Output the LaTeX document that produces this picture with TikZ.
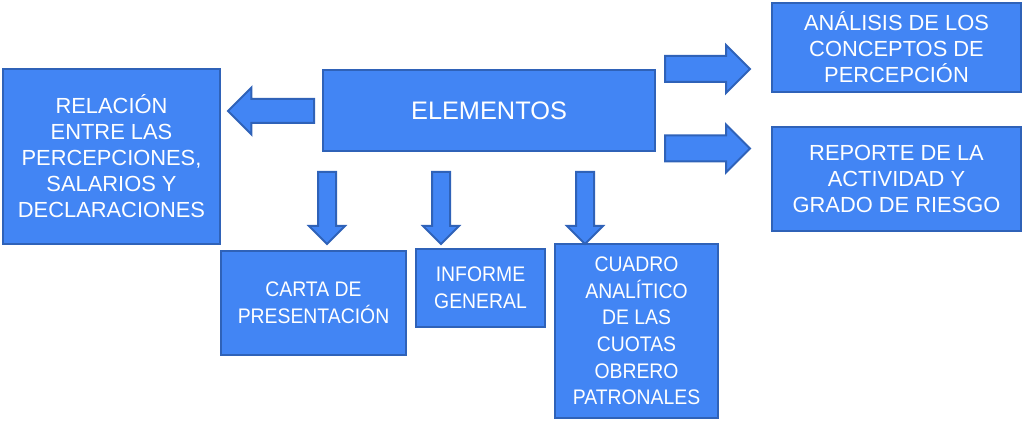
\documentclass[tikz,border=0pt]{standalone}
\usepackage{fontspec}
\setmainfont{Liberation Sans}
\newfontfamily\estrecha{Liberation Sans}[FakeStretch=0.92]
\usepackage{tikz}
\usetikzlibrary{positioning, shapes.arrows}
\definecolor{azulcaja}{HTML}{4285F4}
\definecolor{bordecaja}{HTML}{2F62B8}
\tikzset{
  caja/.style={draw=bordecaja, fill=azulcaja, line width=2pt, text=white, align=center, inner sep=0pt},
  letragrande/.style={font=\fontsize{16.4}{19.5}\selectfont},
  letrachica/.style={font=\estrecha\fontsize{15.8}{19.9}\selectfont},
  flecha/.style={single arrow, draw=bordecaja, fill=azulcaja, line width=1.5pt, inner xsep=0pt, anchor=tail}
}

\begin{document}
\begin{tikzpicture}[x=0.75pt, y=-0.75pt]
\useasboundingbox (0,0) rectangle (1024,424);
\node[caja, font=\fontsize{19}{22}\selectfont, minimum width=249pt, minimum height=60.75pt] (elementos) at (489,110.5) {ELEMENTOS};
\node[caja, letragrande, minimum width=162.75pt, minimum height=131.25pt] (relacion) at (111.5,156.5) {RELACIÓN\\ENTRE LAS\\PERCEPCIONES,\\SALARIOS Y\\DECLARACIONES};
\node[caja, letragrande, minimum width=186.75pt, minimum height=66.75pt] (analisis) at (896.5,47.5) {ANÁLISIS DE LOS\\CONCEPTOS DE\\PERCEPCIÓN};
\node[caja, letragrande, minimum width=186.75pt, minimum height=78pt] (reporte) at (896.5,179) {REPORTE DE LA\\ACTIVIDAD Y\\GRADO DE RIESGO};
\node[caja, letrachica, minimum width=138.75pt, minimum height=78pt] (carta) at (313.5,303) {CARTA DE\\PRESENTACIÓN};
\node[caja, letrachica, minimum width=96.75pt, minimum height=58.5pt] (informe) at (480.5,288) {INFORME\\GENERAL};
\node[caja, letrachica, minimum width=122.25pt, minimum height=130.5pt] (cuadro) at (636.5,331) {CUADRO\\ANALÍTICO\\DE LAS\\CUOTAS\\OBRERO\\PATRONALES};
\node[flecha, rotate=180, inner ysep=8.25pt, minimum height=64.5pt, single arrow head extend=8.6pt] (fizq) at (315,111) {};
\node[flecha, inner ysep=9pt, minimum height=63.75pt, single arrow head extend=8.25pt] (fder1) at (664,69) {};
\node[flecha, inner ysep=9pt, minimum height=63.75pt, single arrow head extend=8.25pt] (fder2) at (664,148.5) {};
\foreach \x/\nombre in {327/fabajo1, 441/fabajo2, 585/fabajo3}
  \node[flecha, rotate=-90, inner ysep=6pt, minimum height=54pt, single arrow head extend=6.75pt] (\nombre) at (\x,171) {};
\end{tikzpicture}
\end{document}
